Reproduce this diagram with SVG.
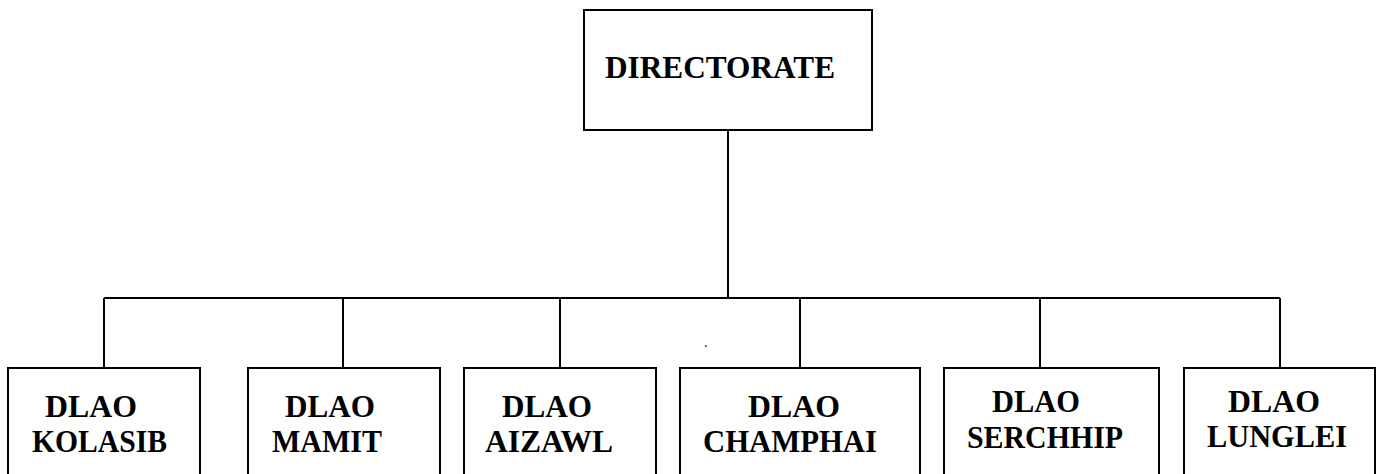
<svg xmlns="http://www.w3.org/2000/svg" width="1384" height="474" viewBox="0 0 1384 474">
<style>
.box{fill:#fff;stroke:#000;stroke-width:2}
.ln{stroke:#000;stroke-width:2;fill:none}
text{font-family:"Liberation Serif","Times New Roman",serif;font-weight:bold;font-size:32px;fill:#000}
</style>
<rect width="1384" height="474" fill="#fff"/>
<g id="connectors">
<path class="ln" d="M728 130V298M104 298H1280M104 298V368M343 298V368M560 298V368M800 298V368M1040 298V368M1280 298V368"/>
</g>
<g id="directorate"><rect class="box" x="584" y="10" width="288" height="120"/><text x="605" y="78" textLength="230" lengthAdjust="spacingAndGlyphs">DIRECTORATE</text></g>
<g id="kolasib"><rect class="box" x="8" y="368" width="192" height="160"/><text x="45" y="417" textLength="92" lengthAdjust="spacingAndGlyphs">DLAO</text><text x="32" y="452" textLength="135" lengthAdjust="spacingAndGlyphs">KOLASIB</text></g>
<g id="mamit"><rect class="box" x="248" y="368" width="192" height="160"/><text x="285" y="417" textLength="90" lengthAdjust="spacingAndGlyphs">DLAO</text><text x="272" y="452" textLength="110" lengthAdjust="spacingAndGlyphs">MAMIT</text></g>
<g id="aizawl"><rect class="box" x="464" y="368" width="192" height="160"/><text x="502" y="417" textLength="90" lengthAdjust="spacingAndGlyphs">DLAO</text><text x="485" y="452" textLength="128" lengthAdjust="spacingAndGlyphs">AIZAWL</text></g>
<g id="champhai"><rect class="box" x="680" y="368" width="240" height="160"/><text x="748" y="417" textLength="92" lengthAdjust="spacingAndGlyphs">DLAO</text><text x="703" y="452" textLength="174" lengthAdjust="spacingAndGlyphs">CHAMPHAI</text></g>
<g id="serchhip"><rect class="box" x="944" y="368" width="215" height="160"/><text x="992" y="412" textLength="88" lengthAdjust="spacingAndGlyphs">DLAO</text><text x="967" y="448" textLength="156" lengthAdjust="spacingAndGlyphs">SERCHHIP</text></g>
<g id="lunglei"><rect class="box" x="1184" y="368" width="191" height="160"/><text x="1228" y="412" textLength="92" lengthAdjust="spacingAndGlyphs">DLAO</text><text x="1207" y="447" textLength="140" lengthAdjust="spacingAndGlyphs">LUNGLEI</text></g>
<text x="704" y="347" style="font-size:14px;font-weight:normal">.</text>
</svg>
